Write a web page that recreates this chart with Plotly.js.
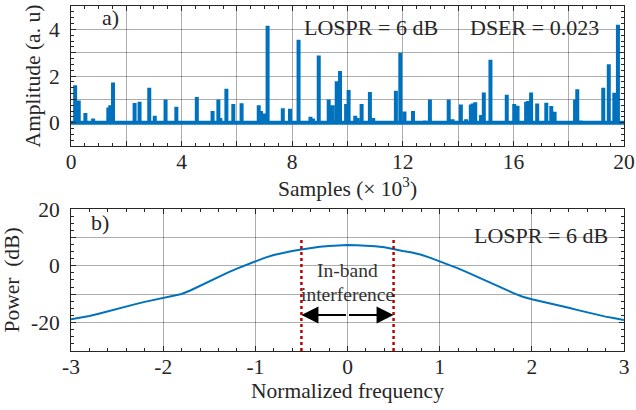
<!DOCTYPE html>
<html>
<head>
<meta charset="utf-8">
<script src="https://cdn.plot.ly/plotly-3.0.1.min.js"></script>
<style>html,body{margin:0;padding:0;background:#fff;}#chart{width:636px;height:410px;}</style>
</head>
<body>
<div id="chart"></div>
<script>
// Panel a) spike positions (samples ×10^3) and amplitudes (a.u.)
const spikeSamples = [0.15,0.28,0.52,0.80,1.35,1.42,1.52,2.30,2.48,2.83,3.03,3.42,3.81,4.55,5.12,5.33,5.40,5.62,5.87,6.17,6.79,6.87,6.97,7.11,7.35,7.66,7.92,8.23,8.66,8.75,8.96,9.32,9.46,9.61,9.73,9.95,10.04,10.28,10.36,10.51,10.81,10.93,11.75,11.91,12.06,12.37,12.80,12.98,13.66,13.80,14.10,14.29,14.46,14.53,14.62,14.83,14.93,15.17,15.76,16.03,16.15,16.46,16.53,16.64,16.86,17.19,17.37,17.49,18.23,18.31,18.44,19.25,19.45,19.65,19.78];
const spikeAmps = [1.6,0.95,0.42,0.18,0.65,0.75,1.72,0.85,0.9,1.5,0.3,1.0,0.68,1.1,0.5,1.0,0.2,1.45,0.8,0.83,0.75,0.5,0.4,4.15,0.07,0.62,0.6,3.55,0.26,0.18,2.88,1.0,0.75,1.78,2.22,0.8,1.4,0.3,0.2,0.8,1.32,0.2,1.37,3.0,0.48,0.5,0.1,1.0,1.0,0.15,0.78,0.15,0.78,0.82,0.88,0.33,1.3,2.7,1.2,0.8,0.73,0.9,0.93,1.3,0.82,0.86,0.72,0.47,1.0,1.43,0.1,1.5,2.5,1.28,4.2];
const sampleRange = [0, 20];

// Panel b) power spectrum
const freq = [-3.0,-2.9,-2.8,-2.7,-2.6,-2.5,-2.4,-2.3,-2.2,-2.1,-2.0,-1.9,-1.8,-1.7,-1.6,-1.5,-1.4,-1.3,-1.2,-1.1,-1.0,-0.9,-0.8,-0.7,-0.6,-0.5,-0.4,-0.3,-0.2,-0.1,0.0,0.1,0.2,0.3,0.4,0.5,0.6,0.7,0.8,0.9,1.0,1.1,1.2,1.3,1.4,1.5,1.6,1.7,1.8,1.9,2.0,2.1,2.2,2.3,2.4,2.5,2.6,2.7,2.8,2.9,3.0];
const power = [-18.8,-18.3,-17.7,-16.9,-16.0,-15.1,-14.3,-13.5,-12.7,-12.0,-11.3,-10.6,-9.9,-8.6,-7.0,-5.4,-3.9,-2.4,-1.0,0.3,1.5,2.8,3.8,4.6,5.2,5.7,6.3,6.7,7.0,7.2,7.3,7.2,7.1,6.9,6.5,5.8,5.2,4.7,3.9,2.8,1.6,0.3,-0.9,-2.3,-3.7,-5.1,-6.6,-8.1,-9.6,-10.9,-11.8,-12.5,-13.3,-14.0,-14.8,-15.6,-16.4,-17.2,-17.9,-18.5,-19.1];
const bandEdges = [-0.5, 0.5];

// Tick labels
const aXTickVals = [0,2,4,6,8,10,12,14,16,18,20];
const aXTickText = ['0','','4','','8','','12','','16','','20'];
const aYTickVals = [0,1,2,3,4];
const aYTickText = ['0','','2','','4'];
const bXTickVals = [-3,-2,-1,0,1,2,3];
const bXTickText = ['-3','-2','-1','0','1','2','3'];
const bYTickVals = [-20,-10,0,10,20];
const bYTickText = ['-20','','0','','20'];

const blue = '#0072BD';
const font = 'Liberation Serif, Times New Roman, serif';
const txt = '#262626';
const fs = 21.5;

// build spike trace
const sx = [sampleRange[0]], sy = [0];
spikeSamples.forEach((s, i) => { sx.push(s, s, s); sy.push(0, spikeAmps[i], 0); });
sx.push(sampleRange[1]); sy.push(0);

const traces = [
  {x: sx, y: sy, type: 'scatter', mode: 'lines', line: {color: blue, width: 4}, xaxis: 'x', yaxis: 'y', hoverinfo: 'skip'},
  {x: freq, y: power, type: 'scatter', mode: 'lines', line: {color: blue, width: 2}, xaxis: 'x2', yaxis: 'y2', hoverinfo: 'skip'}
];

const axBase = {
  showline: true, linecolor: txt, linewidth: 1, mirror: 'ticks',
  ticks: 'inside', ticklen: 5, tickcolor: txt,
  showgrid: true, gridcolor: 'rgba(0,0,0,0.32)', gridwidth: 1,
  zeroline: false, tickmode: 'array',
  tickfont: {family: font, size: fs, color: txt},
  automargin: false
};

const layout = {
  width: 636, height: 410,
  margin: {l: 71, r: 12, t: 6, b: 59},
  paper_bgcolor: '#fff', plot_bgcolor: '#fff',
  showlegend: false,
  font: {family: font, color: txt, size: fs},
  xaxis: Object.assign({}, axBase, {
    domain: [0, 1], anchor: 'y', range: [0, 20],
    tickvals: aXTickVals, ticktext: aXTickText, ticklabelstandoff: -4,
    minor: {ticks: 'inside', dtick: 0.5, tick0: 0, ticklen: 3, tickcolor: txt, showgrid: false},
    title: {text: 'Samples (× 10<sup>3</sup>)', font: {family: font, size: fs, color: txt}, standoff: 0}
  }),
  yaxis: Object.assign({}, axBase, {
    domain: [0.594, 1], anchor: 'x', range: [-1, 5],
    tickvals: aYTickVals, ticktext: aYTickText, ticklabelstandoff: 6,
    minor: {ticks: 'inside', dtick: 0.25, tick0: 0, ticklen: 3, tickcolor: txt, showgrid: false},
    title: {text: 'Amplitude (a. u)', font: {family: font, size: fs, color: txt}, standoff: 2}
  }),
  xaxis2: Object.assign({}, axBase, {
    domain: [0, 1], anchor: 'y2', range: [-3, 3],
    tickvals: bXTickVals, ticktext: bXTickText, ticklabelstandoff: -4,
    minor: {ticks: 'inside', dtick: 0.2, tick0: 0, ticklen: 3, tickcolor: txt, showgrid: false},
    title: {text: 'Normalized frequency', font: {family: font, size: fs, color: txt}, standoff: 0}
  }),
  yaxis2: Object.assign({}, axBase, {
    domain: [0, 0.4116], anchor: 'x2', range: [-30, 20],
    tickvals: bYTickVals, ticktext: bYTickText, ticklabelstandoff: 6,
    minor: {ticks: 'inside', dtick: 2.5, tick0: 0, ticklen: 3, tickcolor: txt, showgrid: false},
    title: {text: 'Power  (dB)', font: {family: font, size: fs, color: txt}, standoff: 6}
  }),
  shapes: bandEdges.map(e => ({
    type: 'line', xref: 'x2', yref: 'y2', x0: e, x1: e, y0: -30, y1: 9.3,
    line: {color: '#C00000', width: 2.5, dash: 'dot'}
  })),
  annotations: [
    {xref: 'x', yref: 'y', x: 1.05, y: 4.5, text: 'a)', showarrow: false, xanchor: 'left', font: {family: font, size: 22, color: txt}},
    {xref: 'x', yref: 'y', x: 10.86, y: 4.1, text: 'LOSPR = 6 dB', showarrow: false, font: {family: font, size: 22, color: txt}},
    {xref: 'x', yref: 'y', x: 16.78, y: 4.1, text: 'DSER = 0.023', showarrow: false, font: {family: font, size: 22, color: txt}},
    {xref: 'x2', yref: 'y2', x: -2.8, y: 15.3, text: 'b)', showarrow: false, xanchor: 'left', font: {family: font, size: 22, color: txt}},
    {xref: 'x2', yref: 'y2', x: 2.1, y: 10.5, text: 'LOSPR = 6 dB', showarrow: false, font: {family: font, size: 22, color: txt}},
    {xref: 'x2', yref: 'y2', x: 0, y: -1.8, text: 'In-band', showarrow: false, font: {family: font, size: 19.5, color: '#333'}},
    {xref: 'x2', yref: 'y2', x: 0, y: -10, text: 'interference', showarrow: false, font: {family: font, size: 19.5, color: '#333'}},
    {xref: 'x2', yref: 'y2', axref: 'x2', ayref: 'y2', x: bandEdges[1], y: -17.3, ax: 0, ay: -17.3, text: '', showarrow: true, arrowhead: 2, arrowsize: 1.7, arrowwidth: 2, arrowcolor: '#000', standoff: 0},
    {xref: 'x2', yref: 'y2', axref: 'x2', ayref: 'y2', x: bandEdges[0], y: -17.3, ax: 0, ay: -17.3, text: '', showarrow: true, arrowhead: 2, arrowsize: 1.7, arrowwidth: 2, arrowcolor: '#000', standoff: 0}
  ]
};

Plotly.newPlot('chart', traces, layout, {displayModeBar: false, staticPlot: true});
</script>
</body>
</html>
